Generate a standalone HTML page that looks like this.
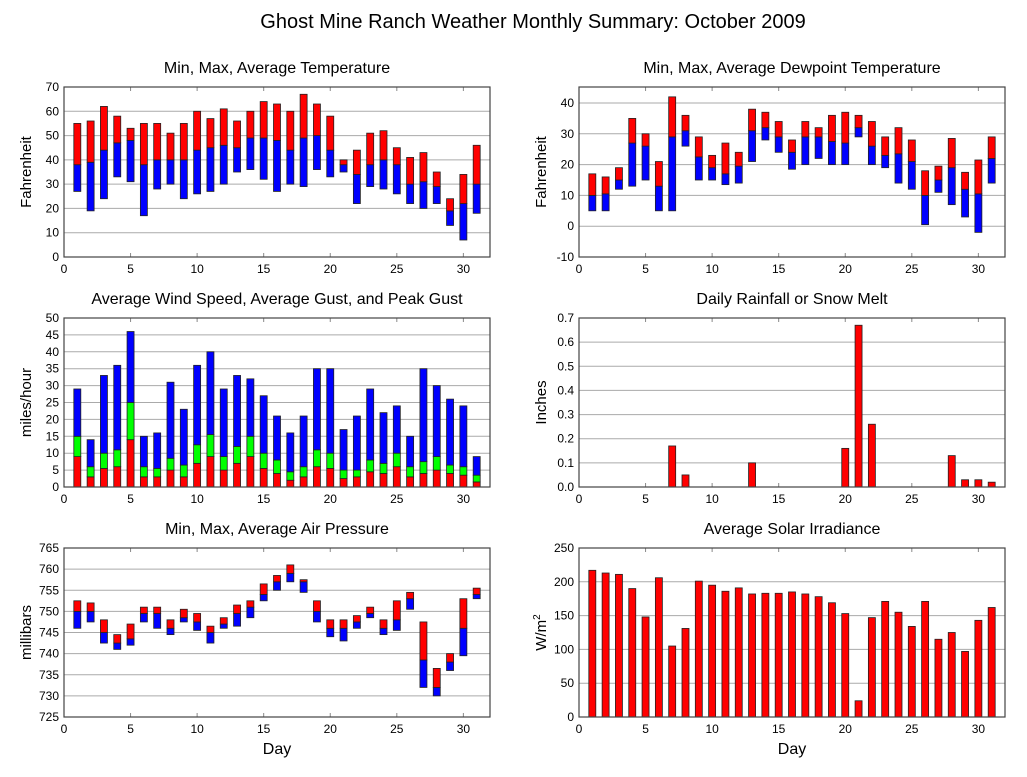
<!DOCTYPE html>
<html><head><meta charset="utf-8">
<style>
body{margin:0;background:#fff;font-family:"Liberation Sans",sans-serif;}
svg text{font-family:"Liberation Sans",sans-serif;fill:#000;}
</style></head>
<body>
<svg id="chart" width="1027" height="772" viewBox="0 0 1027 772" xmlns="http://www.w3.org/2000/svg">
<rect width="1027" height="772" fill="#fff"/>
<text x="533" y="28" font-size="20" text-anchor="middle">Ghost Mine Ranch Weather Monthly Summary: October 2009</text>
</svg>
<script>
const days = [1,2,3,4,5,6,7,8,9,10,11,12,13,14,15,16,17,18,19,20,21,22,23,24,25,26,27,28,29,30,31];
const tempMin = [27,19,24,33,31,17,28,30,24,26,27,30,35,36,32,27,30,29,36,33,35,22,29,28,26,22,20,22,13,7,18];
const tempAvg = [38,39,44,47,48,38,40,40,40,44,45,46,45,49,49,48,44,49,50,44,38,34,38,40,38,30,31,29,19,22,30];
const tempMax = [55,56,62,58,53,55,55,51,55,60,57,61,56,60,64,63,60,67,63,58,40,44,51,52,45,41,43,35,24,34,46];
const dewMin = [5,5,12,13,15,5,5,26,15,15,13.5,14,21,28,24,18.5,20,22,20,20,29,20,19,14,12,0.5,11,7,3,-2,14];
const dewAvg = [10,10.5,15,27,26,13,29,31,22.5,19,17,19.5,31,32,29,24,29,29,27.5,27,32,26,23,23.5,21,10,15,19,12,10.5,22];
const dewMax = [17,16,19,35,30,21,42,36,29,23,27,24,38,37,34,28,34,32,36,37,36,34,29,32,28,18,19.5,28.5,17.5,21.5,29];
const windAvg = [9,3,5.5,6,14,3,3,5,3,7,9,5,7,9,5.5,4,2,3,6,5.5,2.5,3,4.5,4,6,3,4,5,4,3.5,1.5];
const windGust = [15,6,10,11,25,6,5.5,8.5,6.5,12.5,15.5,9,12,15,10,8,4.5,6,11,10,5,5,8,7,10,6,7.5,9,6.5,6,3.5];
const windPeak = [29,14,33,36,46,15,16,31,23,36,40,29,33,32,27,21,16,21,35,35,17,21,29,22,24,15,35,30,26,24,9];
const rain = [0,0,0,0,0,0,0.17,0.05,0,0,0,0,0.1,0,0,0,0,0,0,0.16,0.67,0.26,0,0,0,0,0,0.13,0.03,0.03,0.02];
const presMin = [746,747.5,742.5,741,742,747.5,746,744.5,747.5,745.5,742.5,746,746.5,748.5,752.5,755,757,754.5,747.5,744,743,746,748.5,744.5,745.5,750.5,732,730,736,739.5,753];
const presAvg = [750,750,745,742.5,743.5,749.5,749.5,746,748.5,747.5,745,747,749.5,751,754,757,759,757,750,746,746,747.5,749.5,746,748,753,738.5,732,738,746,754];
const presMax = [752.5,752,748,744.5,747,751,751,748,750.5,749.5,746.5,748.5,751.5,752.5,756.5,758.5,761,757.5,752.5,748,748,749,751,748,752.5,754.5,747.5,736.5,740,753,755.5];
const solar = [217,213,211,190,148,206,105,131,201,195,186,191,182,183,183,185,182,178,169,153,24,147,171,155,134,171,115,125,97,143,162];
const xTicks = [0,5,10,15,20,25,30];
const tempTicks = [0,10,20,30,40,50,60,70];
const dewTicks = [-10,0,10,20,30,40];
const windTicks = [0,5,10,15,20,25,30,35,40,45,50];
const rainTicks = [0,0.1,0.2,0.3,0.4,0.5,0.6,0.7];
const presTicks = [725,730,735,740,745,750,755,760,765];
const solarTicks = [0,50,100,150,200,250];

const NS="http://www.w3.org/2000/svg";
const svg=document.getElementById('chart');
function mk(tag,attrs,parent){const e=document.createElementNS(NS,tag);for(const k in attrs)e.setAttribute(k,attrs[k]);(parent||svg).appendChild(e);return e;}

function panel(opt){
  const g=mk('g',{});
  
  
  const {x0,x1,y0,y1,ymin,ymax}=opt;
  const sx=d=>x0+(x1-x0)*d/32;
  const sy=v=>y1-(y1-y0)*(v-ymin)/(ymax-ymin);
  const t=mk('text',{x:(x0+x1)/2,y:y0-14,'font-size':16,'text-anchor':'middle'},g);
  t.textContent=opt.title;
  
  
  opt.yTicks.forEach(v=>{
    const y=sy(v);
    if(v!==ymin&&y>y0+1){const l=mk('line',{x1:x0,x2:x1,y1:y,y2:y,stroke:'#aaa','stroke-width':1},g);
      
      }
    const tx=mk('text',{x:x0-5,y:y+4,'font-size':12,'text-anchor':'end'},g);
    tx.textContent=opt.fmt?opt.fmt(v):v;
    
    
  });
  xTicks.forEach(d=>{
    const x=sx(d);
    mk('line',{x1:x,x2:x,y1:y1,y2:y1-4,stroke:'#888'},g);
    mk('line',{x1:x,x2:x,y1:y0,y2:y0+4,stroke:'#888'},g);
    const tx=mk('text',{x:x,y:y1+16,'font-size':12,'text-anchor':'middle'},g);
    tx.textContent=d;
    
    
  });
  const w=7;
  opt.series.forEach(s=>{
    days.forEach((d,i)=>{
      const lo=s.lo(i),hi=s.hi(i);
      if(hi<=lo)return;
      const r=mk('rect',{x:sx(d)-w/2,y:sy(hi),width:w,height:sy(lo)-sy(hi),fill:s.color,stroke:'#222','stroke-width':0.8},g);
      
      
    });
  });
  mk('rect',{x:x0,y:y0,width:x1-x0,height:y1-y0,fill:'none',stroke:'#444','stroke-width':1.2},g);
  const yl=mk('text',{x:0,y:0,'font-size':15,'text-anchor':'middle',transform:`translate(${x0-33},${(y0+y1)/2}) rotate(-90)`},g);
  if(opt.ylabelHTML){yl.innerHTML=opt.ylabelHTML;}else yl.textContent=opt.ylabel;
  
  
  if(opt.xlabel){const xl=mk('text',{x:(x0+x1)/2,y:y1+37,'font-size':16,'text-anchor':'middle'},g);xl.textContent='Day';
    
    }
}
const L=[64,490],R=[579,1005];
panel({name:'temperature-panel',title:'Min, Max, Average Temperature',x0:L[0],x1:L[1],y0:87,y1:257,ymin:0,ymax:70,yTicks:tempTicks,ylabel:'Fahrenheit',
  series:[{name:'temp-min-avg',color:'#0000ff',lo:i=>tempMin[i],hi:i=>tempAvg[i]},{name:'temp-avg-max',color:'#ff0000',lo:i=>tempAvg[i],hi:i=>tempMax[i]}]});
panel({name:'dewpoint-panel',title:'Min, Max, Average Dewpoint Temperature',x0:R[0],x1:R[1],y0:87,y1:257,ymin:-10,ymax:45.2,yTicks:dewTicks,ylabel:'Fahrenheit',
  series:[{name:'dew-min-avg',color:'#0000ff',lo:i=>dewMin[i],hi:i=>dewAvg[i]},{name:'dew-avg-max',color:'#ff0000',lo:i=>dewAvg[i],hi:i=>dewMax[i]}]});
panel({name:'wind-panel',title:'Average Wind Speed, Average Gust, and Peak Gust',x0:L[0],x1:L[1],y0:318,y1:487,ymin:0,ymax:50,yTicks:windTicks,ylabel:'miles/hour',
  series:[{name:'wind-avg',color:'#ff0000',lo:i=>0,hi:i=>windAvg[i]},{name:'wind-gust',color:'#00ff00',lo:i=>windAvg[i],hi:i=>windGust[i]},{name:'wind-peak',color:'#0000ff',lo:i=>windGust[i],hi:i=>windPeak[i]}]});
panel({name:'rain-panel',title:'Daily Rainfall or Snow Melt',x0:R[0],x1:R[1],y0:318,y1:487,ymin:0,ymax:0.7,yTicks:rainTicks,ylabel:'Inches',fmt:v=>v.toFixed(1),
  series:[{name:'rain',color:'#ff0000',lo:i=>0,hi:i=>rain[i]}]});
panel({name:'pressure-panel',title:'Min, Max, Average Air Pressure',x0:L[0],x1:L[1],y0:548,y1:717,ymin:725,ymax:765,yTicks:presTicks,ylabel:'millibars',xlabel:true,
  series:[{name:'pres-min-avg',color:'#0000ff',lo:i=>presMin[i],hi:i=>presAvg[i]},{name:'pres-avg-max',color:'#ff0000',lo:i=>presAvg[i],hi:i=>presMax[i]}]});
panel({name:'solar-panel',title:'Average Solar Irradiance',x0:R[0],x1:R[1],y0:548,y1:717,ymin:0,ymax:250,yTicks:solarTicks,ylabelHTML:'W/m<tspan dy="-6" font-size="10">2</tspan>',xlabel:true,
  series:[{name:'solar',color:'#ff0000',lo:i=>0,hi:i=>solar[i]}]});
</script>
</body></html>
